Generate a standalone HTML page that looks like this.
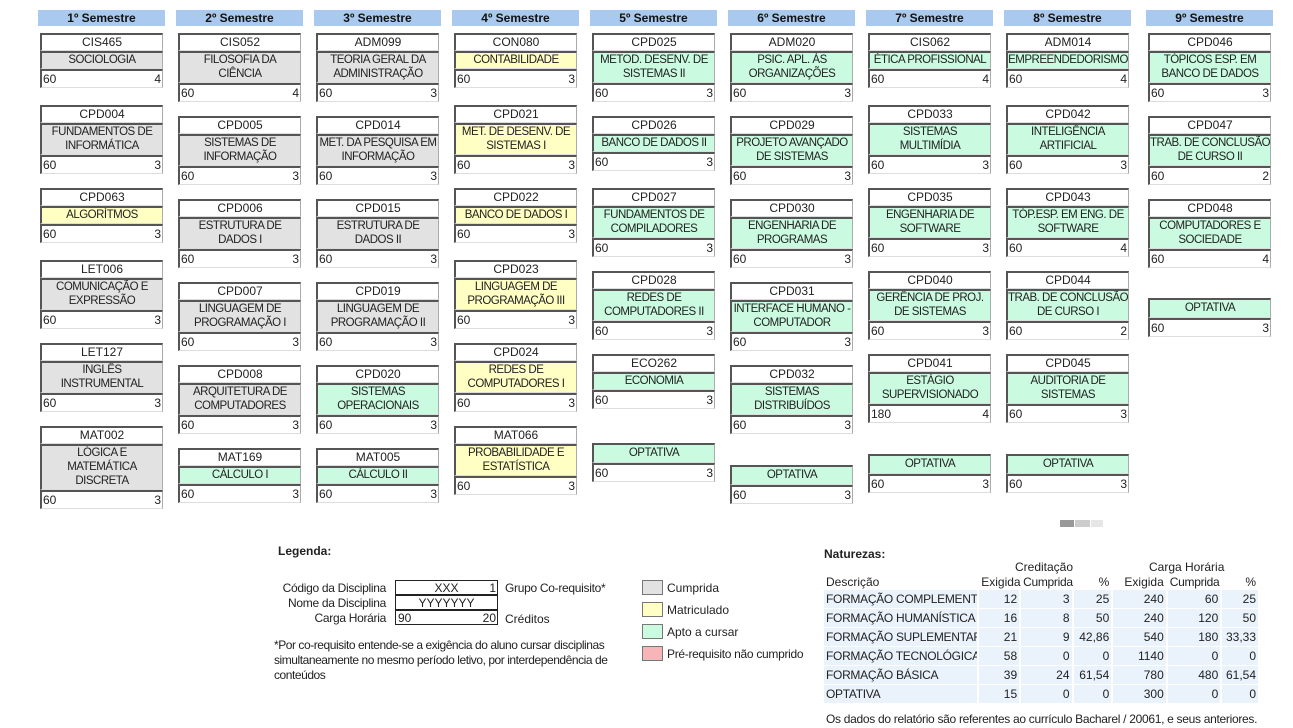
<!DOCTYPE html>
<html><head><meta charset="utf-8"><style>
body{margin:0;width:1293px;height:728px;background:#fff;font-family:"Liberation Sans",sans-serif;font-size:12px;color:#222;position:relative;overflow:hidden}
.h{position:absolute;top:10px;height:16px;width:127px;background:#a9c9ef;font-weight:bold;text-align:center;line-height:16px;font-size:12px;color:#111}
.c{position:absolute;width:123px}
.c>div{border-top:2px solid #555;border-left:2px solid #555;border-right:1px solid #aaa;border-bottom:1px solid #ddd;box-sizing:border-box}
.k{height:18px;line-height:15px;text-align:center;background:#fff}
.n{text-align:center;line-height:14px;padding:0 0 1px;white-space:nowrap;overflow:hidden;letter-spacing:-0.5px;font-size:11.5px}
.g{background:#e2e2e2}.y{background:#ffffc4}.v{background:#cafbe0}
.b{height:19px;line-height:16px;background:#fff;display:flex;justify-content:space-between;padding:0 1px 0 1px}
.lg{position:absolute;font-size:12px;white-space:nowrap}
.sq{position:absolute;left:642px;width:19px;height:13px;border:1px solid #777}
table{position:absolute;left:822px;top:560px;border-collapse:separate;border-spacing:2px 1px;font-size:12px;table-layout:fixed;width:438px}
td{padding:0 2px;height:18px;text-align:right;white-space:nowrap;overflow:hidden}
tr.d td{background:#eaf2fb}
tr.d td:first-child{text-align:left;letter-spacing:-0.3px}
</style></head><body>
<div class="h" style="left:38px">1º Semestre</div>
<div class="h" style="left:176px">2º Semestre</div>
<div class="h" style="left:314px">3º Semestre</div>
<div class="h" style="left:452px">4º Semestre</div>
<div class="h" style="left:590px">5º Semestre</div>
<div class="h" style="left:728px">6º Semestre</div>
<div class="h" style="left:866px">7º Semestre</div>
<div class="h" style="left:1004px">8º Semestre</div>
<div class="h" style="left:1146px">9º Semestre</div>

<!-- col1 -->
<div class="c" style="left:40px;top:33px"><div class="k">CIS465</div><div class="n g">SOCIOLOGIA</div><div class="b"><span>60</span><span>4</span></div></div>
<div class="c" style="left:40px;top:105px"><div class="k">CPD004</div><div class="n g">FUNDAMENTOS DE<br>INFORMÁTICA</div><div class="b"><span>60</span><span>3</span></div></div>
<div class="c" style="left:40px;top:188px"><div class="k">CPD063</div><div class="n y">ALGORÍTMOS</div><div class="b"><span>60</span><span>3</span></div></div>
<div class="c" style="left:40px;top:260px"><div class="k">LET006</div><div class="n g">COMUNICAÇÃO E<br>EXPRESSÃO</div><div class="b"><span>60</span><span>3</span></div></div>
<div class="c" style="left:40px;top:343px"><div class="k">LET127</div><div class="n g">INGLÊS<br>INSTRUMENTAL</div><div class="b"><span>60</span><span>3</span></div></div>
<div class="c" style="left:40px;top:426px"><div class="k">MAT002</div><div class="n g">LÓGICA E<br>MATEMÁTICA<br>DISCRETA</div><div class="b"><span>60</span><span>3</span></div></div>
<!-- col2 -->
<div class="c" style="left:178px;top:33px"><div class="k">CIS052</div><div class="n g">FILOSOFIA DA<br>CIÊNCIA</div><div class="b"><span>60</span><span>4</span></div></div>
<div class="c" style="left:178px;top:116px"><div class="k">CPD005</div><div class="n g">SISTEMAS DE<br>INFORMAÇÃO</div><div class="b"><span>60</span><span>3</span></div></div>
<div class="c" style="left:178px;top:199px"><div class="k">CPD006</div><div class="n g">ESTRUTURA DE<br>DADOS I</div><div class="b"><span>60</span><span>3</span></div></div>
<div class="c" style="left:178px;top:282px"><div class="k">CPD007</div><div class="n g">LINGUAGEM DE<br>PROGRAMAÇÃO I</div><div class="b"><span>60</span><span>3</span></div></div>
<div class="c" style="left:178px;top:365px"><div class="k">CPD008</div><div class="n g">ARQUITETURA DE<br>COMPUTADORES</div><div class="b"><span>60</span><span>3</span></div></div>
<div class="c" style="left:178px;top:448px"><div class="k">MAT169</div><div class="n v">CÁLCULO I</div><div class="b"><span>60</span><span>3</span></div></div>
<!-- col3 -->
<div class="c" style="left:316px;top:33px"><div class="k">ADM099</div><div class="n g">TEORIA GERAL DA<br>ADMINISTRAÇÃO</div><div class="b"><span>60</span><span>3</span></div></div>
<div class="c" style="left:316px;top:116px"><div class="k">CPD014</div><div class="n g">MET. DA PESQUISA EM<br>INFORMAÇÃO</div><div class="b"><span>60</span><span>3</span></div></div>
<div class="c" style="left:316px;top:199px"><div class="k">CPD015</div><div class="n g">ESTRUTURA DE<br>DADOS II</div><div class="b"><span>60</span><span>3</span></div></div>
<div class="c" style="left:316px;top:282px"><div class="k">CPD019</div><div class="n g">LINGUAGEM DE<br>PROGRAMAÇÃO II</div><div class="b"><span>60</span><span>3</span></div></div>
<div class="c" style="left:316px;top:365px"><div class="k">CPD020</div><div class="n v">SISTEMAS<br>OPERACIONAIS</div><div class="b"><span>60</span><span>3</span></div></div>
<div class="c" style="left:316px;top:448px"><div class="k">MAT005</div><div class="n v">CÁLCULO II</div><div class="b"><span>60</span><span>3</span></div></div>
<!-- col4 -->
<div class="c" style="left:454px;top:33px"><div class="k">CON080</div><div class="n y">CONTABILIDADE</div><div class="b"><span>60</span><span>3</span></div></div>
<div class="c" style="left:454px;top:105px"><div class="k">CPD021</div><div class="n y">MET. DE DESENV. DE<br>SISTEMAS I</div><div class="b"><span>60</span><span>3</span></div></div>
<div class="c" style="left:454px;top:188px"><div class="k">CPD022</div><div class="n y">BANCO DE DADOS I</div><div class="b"><span>60</span><span>3</span></div></div>
<div class="c" style="left:454px;top:260px"><div class="k">CPD023</div><div class="n y">LINGUAGEM DE<br>PROGRAMAÇÃO III</div><div class="b"><span>60</span><span>3</span></div></div>
<div class="c" style="left:454px;top:343px"><div class="k">CPD024</div><div class="n y">REDES DE<br>COMPUTADORES I</div><div class="b"><span>60</span><span>3</span></div></div>
<div class="c" style="left:454px;top:426px"><div class="k">MAT066</div><div class="n y">PROBABILIDADE E<br>ESTATÍSTICA</div><div class="b"><span>60</span><span>3</span></div></div>
<!-- col5 -->
<div class="c" style="left:592px;top:33px"><div class="k">CPD025</div><div class="n v">METOD. DESENV. DE<br>SISTEMAS II</div><div class="b"><span>60</span><span>3</span></div></div>
<div class="c" style="left:592px;top:116px"><div class="k">CPD026</div><div class="n v">BANCO DE DADOS II</div><div class="b"><span>60</span><span>3</span></div></div>
<div class="c" style="left:592px;top:188px"><div class="k">CPD027</div><div class="n v">FUNDAMENTOS DE<br>COMPILADORES</div><div class="b"><span>60</span><span>3</span></div></div>
<div class="c" style="left:592px;top:271px"><div class="k">CPD028</div><div class="n v">REDES DE<br>COMPUTADORES II</div><div class="b"><span>60</span><span>3</span></div></div>
<div class="c" style="left:592px;top:354px"><div class="k">ECO262</div><div class="n v">ECONOMIA</div><div class="b"><span>60</span><span>3</span></div></div>
<div class="c" style="left:592px;top:443px"><div class="n v" style="padding:1px 0 2px">OPTATIVA</div><div class="b"><span>60</span><span>3</span></div></div>
<!-- col6 -->
<div class="c" style="left:730px;top:33px"><div class="k">ADM020</div><div class="n v">PSIC. APL. ÀS<br>ORGANIZAÇÕES</div><div class="b"><span>60</span><span>3</span></div></div>
<div class="c" style="left:730px;top:116px"><div class="k">CPD029</div><div class="n v">PROJETO AVANÇADO<br>DE SISTEMAS</div><div class="b"><span>60</span><span>3</span></div></div>
<div class="c" style="left:730px;top:199px"><div class="k">CPD030</div><div class="n v">ENGENHARIA DE<br>PROGRAMAS</div><div class="b"><span>60</span><span>3</span></div></div>
<div class="c" style="left:730px;top:282px"><div class="k">CPD031</div><div class="n v">INTERFACE HUMANO -<br>COMPUTADOR</div><div class="b"><span>60</span><span>3</span></div></div>
<div class="c" style="left:730px;top:365px"><div class="k">CPD032</div><div class="n v">SISTEMAS<br>DISTRIBUÍDOS</div><div class="b"><span>60</span><span>3</span></div></div>
<div class="c" style="left:730px;top:465px"><div class="n v" style="padding:1px 0 2px">OPTATIVA</div><div class="b"><span>60</span><span>3</span></div></div>
<!-- col7 -->
<div class="c" style="left:868px;top:33px"><div class="k">CIS062</div><div class="n v">ÉTICA PROFISSIONAL</div><div class="b"><span>60</span><span>4</span></div></div>
<div class="c" style="left:868px;top:105px"><div class="k">CPD033</div><div class="n v">SISTEMAS<br>MULTIMÍDIA</div><div class="b"><span>60</span><span>3</span></div></div>
<div class="c" style="left:868px;top:188px"><div class="k">CPD035</div><div class="n v">ENGENHARIA DE<br>SOFTWARE</div><div class="b"><span>60</span><span>3</span></div></div>
<div class="c" style="left:868px;top:271px"><div class="k">CPD040</div><div class="n v">GERÊNCIA DE PROJ.<br>DE SISTEMAS</div><div class="b"><span>60</span><span>3</span></div></div>
<div class="c" style="left:868px;top:354px"><div class="k">CPD041</div><div class="n v">ESTÁGIO<br>SUPERVISIONADO</div><div class="b"><span>180</span><span>4</span></div></div>
<div class="c" style="left:868px;top:454px"><div class="n v" style="padding:1px 0 2px">OPTATIVA</div><div class="b"><span>60</span><span>3</span></div></div>
<!-- col8 -->
<div class="c" style="left:1006px;top:33px"><div class="k">ADM014</div><div class="n v">EMPREENDEDORISMO</div><div class="b"><span>60</span><span>4</span></div></div>
<div class="c" style="left:1006px;top:105px"><div class="k">CPD042</div><div class="n v">INTELIGÊNCIA<br>ARTIFICIAL</div><div class="b"><span>60</span><span>3</span></div></div>
<div class="c" style="left:1006px;top:188px"><div class="k">CPD043</div><div class="n v">TÓP.ESP. EM ENG. DE<br>SOFTWARE</div><div class="b"><span>60</span><span>4</span></div></div>
<div class="c" style="left:1006px;top:271px"><div class="k">CPD044</div><div class="n v">TRAB. DE CONCLUSÃO<br>DE CURSO I</div><div class="b"><span>60</span><span>2</span></div></div>
<div class="c" style="left:1006px;top:354px"><div class="k">CPD045</div><div class="n v">AUDITORIA DE<br>SISTEMAS</div><div class="b"><span>60</span><span>3</span></div></div>
<div class="c" style="left:1006px;top:454px"><div class="n v" style="padding:1px 0 2px">OPTATIVA</div><div class="b"><span>60</span><span>3</span></div></div>
<!-- col9 -->
<div class="c" style="left:1148px;top:33px"><div class="k">CPD046</div><div class="n v">TÓPICOS ESP. EM<br>BANCO DE DADOS</div><div class="b"><span>60</span><span>3</span></div></div>
<div class="c" style="left:1148px;top:116px"><div class="k">CPD047</div><div class="n v">TRAB. DE CONCLUSÃO<br>DE CURSO II</div><div class="b"><span>60</span><span>2</span></div></div>
<div class="c" style="left:1148px;top:199px"><div class="k">CPD048</div><div class="n v">COMPUTADORES E<br>SOCIEDADE</div><div class="b"><span>60</span><span>4</span></div></div>
<div class="c" style="left:1148px;top:298px"><div class="n v" style="padding:1px 0 2px">OPTATIVA</div><div class="b"><span>60</span><span>3</span></div></div>

<div style="position:absolute;left:1060px;top:520px;width:14px;height:7px;background:#999"></div>
<div style="position:absolute;left:1075px;top:520px;width:15px;height:7px;background:#ccc"></div>
<div style="position:absolute;left:1091px;top:520px;width:12px;height:7px;background:#e6e6e6"></div>

<!-- legend -->
<div class="lg" style="left:278px;top:544px;font-weight:bold">Legenda:</div>
<div class="lg" style="left:240px;top:581px;width:146px;text-align:right;line-height:15px;letter-spacing:-0.3px">Código da Disciplina<br>Nome da Disciplina<br>Carga Horária</div>
<div style="position:absolute;left:395px;top:580px;width:103px;height:45px;border:1px solid #222;box-sizing:border-box;line-height:14px;font-size:12px">
<div style="border-bottom:2px solid #222;height:13px;position:relative;text-align:center">XXX<span style="position:absolute;right:1px">1</span></div>
<div style="border-bottom:2px solid #222;height:13px;text-align:center">YYYYYYY</div>
<div style="position:relative;padding-left:2px">90<span style="position:absolute;right:1px">20</span></div></div>
<div class="lg" style="left:505px;top:581px;letter-spacing:-0.3px">Grupo Co-requisito*</div>
<div class="lg" style="left:505px;top:612px">Créditos</div>
<div class="lg" style="left:274px;top:638px;line-height:15px;letter-spacing:-0.45px">*Por co-requisito entende-se a exigência do aluno cursar disciplinas<br>simultaneamente no mesmo período letivo, por interdependência de<br>conteúdos</div>
<div class="sq" style="top:580px;background:#e2e2e2"></div><div class="lg" style="left:667px;top:581px">Cumprida</div>
<div class="sq" style="top:602px;background:#ffffc4"></div><div class="lg" style="left:667px;top:603px">Matriculado</div>
<div class="sq" style="top:624px;background:#cafbe0"></div><div class="lg" style="left:667px;top:625px">Apto a cursar</div>
<div class="sq" style="top:646px;background:#f7b5b8"></div><div class="lg" style="left:667px;top:647px;letter-spacing:-0.3px">Pré-requisito não cumprido</div>

<!-- naturezas -->
<div class="lg" style="left:824px;top:547px;font-weight:bold">Naturezas:</div>
<div class="lg" style="left:1015px;top:560px">Creditação</div>
<div class="lg" style="left:1149px;top:560px">Carga Horária</div>
<table>
<colgroup><col style="width:146px"><col style="width:38px"><col style="width:48px"><col style="width:36px"><col style="width:50px"><col style="width:50px"><col style="width:34px"></colgroup>
<tr><td style="text-align:left;height:28px;vertical-align:bottom">Descrição</td><td style="vertical-align:bottom;overflow:visible">Exigida</td><td style="vertical-align:bottom;text-align:left;overflow:visible;letter-spacing:-0.3px">Cumprida</td><td style="vertical-align:bottom">%</td><td style="vertical-align:bottom;overflow:visible">Exigida</td><td style="vertical-align:bottom;text-align:left;overflow:visible;letter-spacing:-0.3px">Cumprida</td><td style="vertical-align:bottom">%</td></tr>
<tr class="d"><td>FORMAÇÃO COMPLEMENTAR</td><td>12</td><td>3</td><td>25</td><td>240</td><td>60</td><td>25</td></tr>
<tr class="d"><td>FORMAÇÃO HUMANÍSTICA</td><td>16</td><td>8</td><td>50</td><td>240</td><td>120</td><td>50</td></tr>
<tr class="d"><td>FORMAÇÃO SUPLEMENTAR</td><td>21</td><td>9</td><td>42,86</td><td>540</td><td>180</td><td>33,33</td></tr>
<tr class="d"><td>FORMAÇÃO TECNOLÓGICA</td><td>58</td><td>0</td><td>0</td><td>1140</td><td>0</td><td>0</td></tr>
<tr class="d"><td>FORMAÇÃO BÁSICA</td><td>39</td><td>24</td><td>61,54</td><td>780</td><td>480</td><td>61,54</td></tr>
<tr class="d"><td>OPTATIVA</td><td>15</td><td>0</td><td>0</td><td>300</td><td>0</td><td>0</td></tr>
</table>
<div class="lg" style="left:826px;top:712px;letter-spacing:-0.3px">Os dados do relatório são referentes ao currículo Bacharel / 20061, e seus anteriores.</div>
</body></html>
